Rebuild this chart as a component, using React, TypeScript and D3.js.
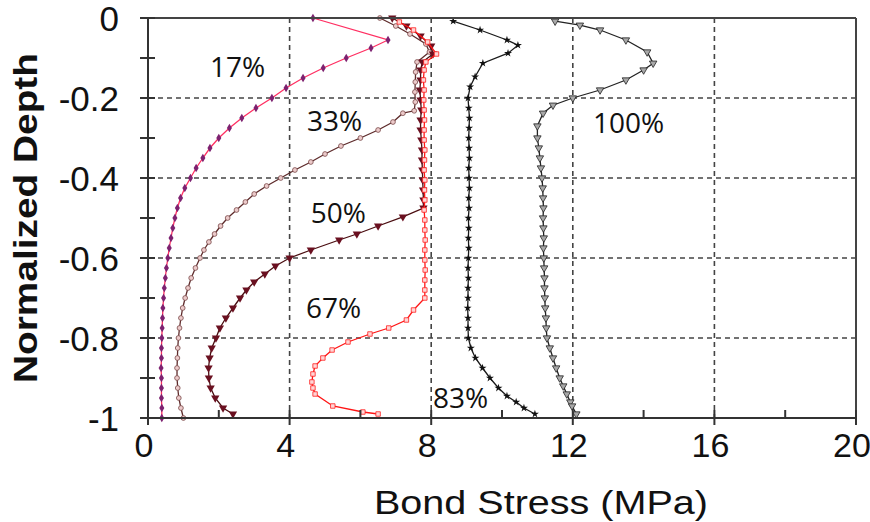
import React from "react";
import * as d3 from "d3";

const xTicks = [0, 4, 8, 12, 16, 20];
const xMinor = [2, 6, 10, 14, 18];
const yTicks = [0, -0.2, -0.4, -0.6, -0.8, -1];
const yMinor = [-0.1, -0.3, -0.5, -0.7, -0.9];
const yTickLabels = ["0", "-0.2", "-0.4", "-0.6", "-0.8", "-1"];

// [bond stress (MPa), normalized depth]
const s17 = [
  [4.66, 0], [6.78, -0.055], [6.3, -0.075], [5.6, -0.1], [4.95, -0.125], [4.38, -0.15],
  [3.9, -0.175], [3.5, -0.2], [3.05, -0.225], [2.65, -0.25], [2.3, -0.275], [2.0, -0.3],
  [1.75, -0.325], [1.55, -0.35], [1.36, -0.375], [1.2, -0.4], [1.04, -0.425], [0.92, -0.45],
  [0.83, -0.475], [0.76, -0.5], [0.7, -0.525], [0.65, -0.55], [0.6, -0.575], [0.56, -0.6],
  [0.52, -0.625], [0.49, -0.65], [0.46, -0.675], [0.44, -0.7], [0.42, -0.725], [0.41, -0.75],
  [0.4, -0.775], [0.39, -0.8], [0.38, -0.825], [0.38, -0.85], [0.37, -0.875], [0.38, -0.9],
  [0.38, -0.925], [0.38, -0.95], [0.39, -0.975], [0.39, -1],
];
const s33 = [
  [6.55, 0], [7.0, -0.02], [7.4, -0.04], [7.85, -0.065], [7.95, -0.085], [7.6, -0.11],
  [7.56, -0.135], [7.55, -0.16], [7.54, -0.185], [7.55, -0.21], [7.52, -0.232], [7.2, -0.238],
  [6.92, -0.26], [6.5, -0.28], [6.0, -0.3], [5.45, -0.32], [5.0, -0.34], [4.6, -0.36],
  [4.15, -0.38], [3.75, -0.4], [3.35, -0.42], [3.0, -0.44], [2.75, -0.46], [2.5, -0.48],
  [2.25, -0.5], [2.05, -0.52], [1.88, -0.54], [1.72, -0.56], [1.58, -0.58], [1.47, -0.6],
  [1.34, -0.625], [1.22, -0.65], [1.13, -0.675], [1.05, -0.7], [0.98, -0.725], [0.93, -0.75],
  [0.89, -0.775], [0.86, -0.8], [0.84, -0.825], [0.83, -0.85], [0.82, -0.875], [0.82, -0.9],
  [0.84, -0.925], [0.87, -0.95], [0.93, -0.975], [1.0, -1],
];
const s50 = [
  [6.9, 0], [7.3, -0.02], [7.7, -0.045], [8.0, -0.07], [8.05, -0.09], [7.75, -0.11],
  [7.7, -0.13], [7.7, -0.155], [7.68, -0.18], [7.7, -0.205], [7.72, -0.23], [7.7, -0.255],
  [7.7, -0.28], [7.72, -0.305], [7.74, -0.33], [7.74, -0.355], [7.75, -0.38], [7.76, -0.405],
  [7.77, -0.43], [7.78, -0.455], [7.78, -0.475], [7.2, -0.497], [6.5, -0.52], [5.9, -0.54],
  [5.4, -0.555], [4.6, -0.58], [4.0, -0.6], [3.6, -0.62], [3.3, -0.64], [3.0, -0.66],
  [2.78, -0.68], [2.6, -0.7], [2.4, -0.725], [2.2, -0.75], [2.03, -0.775], [1.92, -0.8],
  [1.8, -0.825], [1.74, -0.85], [1.71, -0.875], [1.72, -0.9], [1.77, -0.925], [1.9, -0.95],
  [2.12, -0.975], [2.4, -0.99],
];
const s67 = [
  [7.1, -0.01], [7.5, -0.03], [7.9, -0.06], [8.15, -0.09], [7.85, -0.11], [7.8, -0.13],
  [7.78, -0.155], [7.8, -0.18], [7.79, -0.205], [7.8, -0.23], [7.81, -0.255], [7.8, -0.28],
  [7.8, -0.305], [7.82, -0.33], [7.81, -0.355], [7.8, -0.38], [7.82, -0.405], [7.81, -0.43],
  [7.82, -0.455], [7.8, -0.48], [7.82, -0.505], [7.82, -0.53], [7.83, -0.555], [7.82, -0.58],
  [7.82, -0.605], [7.83, -0.63], [7.82, -0.655], [7.82, -0.68], [7.82, -0.7], [7.5, -0.73],
  [7.3, -0.755], [6.8, -0.775], [6.27, -0.79], [5.65, -0.81], [5.2, -0.83], [4.94, -0.85],
  [4.72, -0.87], [4.66, -0.89], [4.63, -0.91], [4.66, -0.925], [4.72, -0.94], [5.22, -0.97],
  [6.07, -0.985], [6.5, -0.99],
];
const s83 = [
  [8.62, -0.008], [9.38, -0.03], [10.14, -0.055], [10.45, -0.068], [10.17, -0.088], [9.46, -0.113],
  [9.24, -0.147], [9.1, -0.172], [9.04, -0.2], [9.06, -0.225], [9.08, -0.25], [9.07, -0.275],
  [9.06, -0.3], [9.07, -0.325], [9.08, -0.35], [9.06, -0.375], [9.07, -0.4], [9.08, -0.425],
  [9.06, -0.45], [9.07, -0.475], [9.05, -0.5], [9.06, -0.525], [9.05, -0.55], [9.06, -0.575],
  [9.05, -0.6], [9.04, -0.625], [9.05, -0.65], [9.04, -0.675], [9.04, -0.7], [9.03, -0.725],
  [9.04, -0.75], [9.04, -0.775], [9.05, -0.8], [9.12, -0.825], [9.25, -0.85], [9.45, -0.875],
  [9.66, -0.9], [9.9, -0.925], [10.14, -0.945], [10.4, -0.96], [10.62, -0.975], [10.93, -0.99],
];
const s100 = [
  [11.5, -0.008], [12.2, -0.018], [12.77, -0.03], [13.5, -0.055], [14.1, -0.085], [14.27, -0.113],
  [14.0, -0.13], [13.5, -0.155], [12.77, -0.18], [12.0, -0.2], [11.44, -0.218], [11.16, -0.238],
  [11.0, -0.27], [11.0, -0.3], [11.04, -0.325], [11.07, -0.35], [11.1, -0.375], [11.13, -0.4],
  [11.15, -0.425], [11.16, -0.45], [11.17, -0.475], [11.16, -0.5], [11.17, -0.525], [11.18, -0.55],
  [11.17, -0.575], [11.18, -0.6], [11.19, -0.625], [11.2, -0.65], [11.2, -0.675], [11.21, -0.7],
  [11.22, -0.725], [11.24, -0.75], [11.25, -0.775], [11.27, -0.8], [11.35, -0.825], [11.44, -0.85],
  [11.53, -0.875], [11.63, -0.9], [11.73, -0.92], [11.83, -0.94], [11.93, -0.96], [11.98, -0.97],
  [12.1, -0.99],
];

const seriesNames = ["17%", "33%", "50%", "67%", "83%", "100%"];
// where each curve's name is written, in data units [stress, depth]
const labelSpots = [
  [1.75, -0.148], [4.49, -0.283], [4.6, -0.513], [4.46, -0.75], [8.05, -0.975], [12.57, -0.288],
];

const W = 870, H = 522;
const left = 148, right = 856, top = 18, bottom = 418;

const looks = [
  { line: "#ff2f62", sym: d3.symbolDiamond, size: 22, fill: "#7d2170", stroke: "none", rot: 0 },
  { line: "#5e2b2b", sym: d3.symbolCircle, size: 18, fill: "#eccaca", stroke: "#7a4a4a", rot: 0 },
  { line: "#4a0d10", sym: d3.symbolTriangle, size: 30, fill: "#6a1020", stroke: "none", rot: 180 },
  { line: "#ff1515", sym: d3.symbolSquare, size: 20, fill: "#ffd6d6", stroke: "#ff2020", rot: 0 },
  { line: "#1a1a1a", sym: d3.symbolStar, size: 20, fill: "#111", stroke: "none", rot: 0 },
  { line: "#222", sym: d3.symbolTriangle, size: 24, fill: "#a8a8a8", stroke: "#222", rot: 180 },
];

export default function App() {
  const x = d3.scaleLinear().domain([0, 20]).range([left, right]);
  const y = d3.scaleLinear().domain([0, -1]).range([top, bottom]);
  const line = d3.line<number[]>().x(d => x(d[0])).y(d => y(d[1]));
  const all = [s17, s33, s50, s67, s83, s100];
  const font = "'Liberation Sans', Arial, sans-serif";

  return (
    <svg width={W} height={H} style={{ position: "absolute", left: 0, top: 0, background: "#fff" }}>
      <rect x={0} y={0} width={W} height={H} fill="#fff" />
      {/* grid */}
      {xTicks.slice(1, -1).map(t => (
        <line key={"gx" + t} x1={x(t)} x2={x(t)} y1={top} y2={bottom}
          stroke="#444" strokeWidth={1.6} strokeDasharray="5,4" />
      ))}
      {yTicks.slice(1, -1).map(t => (
        <line key={"gy" + t} x1={left - 8} x2={right} y1={y(t)} y2={y(t)}
          stroke="#444" strokeWidth={1.6} strokeDasharray="5,4" />
      ))}

      {/* curves */}
      {all.map((s, i) => {
        const lk = looks[i];
        const sym = d3.symbol().type(lk.sym).size(lk.size)();
        return (
          <g key={"s" + i}>
            <path d={line(s) || ""} fill="none" stroke={lk.line} strokeWidth={1.3} />
            {s.map((d, j) => (
              <path key={j} d={sym || ""}
                transform={`translate(${x(d[0])},${y(d[1])}) rotate(${lk.rot})`}
                fill={lk.fill} stroke={lk.stroke} strokeWidth={0.8} />
            ))}
          </g>
        );
      })}

      {/* frame and axes */}
      <line x1={left} x2={right} y1={top} y2={top} stroke="#444" strokeWidth={2} />
      <line x1={right} x2={right} y1={top} y2={bottom} stroke="#444" strokeWidth={2} />
      <line x1={left} x2={left} y1={top} y2={bottom} stroke="#333" strokeWidth={2} />
      <line x1={left} x2={right} y1={bottom} y2={bottom} stroke="#333" strokeWidth={2} />
      {yTicks.concat(yMinor).map(t => (
        <line key={"ty" + t} x1={left - 8} x2={left + 7} y1={y(t)} y2={y(t)} stroke="#333" strokeWidth={2} />
      ))}
      {xTicks.map(t => (
        <line key={"tx" + t} x1={x(t)} x2={x(t)} y1={bottom - 8} y2={bottom + 7} stroke="#333" strokeWidth={2} />
      ))}
      {xMinor.map(t => (
        <line key={"tm" + t} x1={x(t)} x2={x(t)} y1={bottom - 8} y2={bottom} stroke="#333" strokeWidth={2} />
      ))}

      {/* tick labels */}
      {yTicks.map((t, i) => (
        <text key={"ly" + t} x={119} y={y(t) + 13} textAnchor="end" fontFamily={font} fontSize={35} fill="#111">
          {yTickLabels[i]}
        </text>
      ))}
      {xTicks.map(t => (
        <text key={"lx" + t} x={x(t) - 4} y={457} textAnchor="middle" fontFamily={font} fontSize={34} fill="#111">
          {t}
        </text>
      ))}

      {/* axis titles */}
      <text x={541} y={514} textAnchor="middle" fontFamily={font} fontSize={34} fill="#111"
        textLength={334} lengthAdjust="spacingAndGlyphs">Bond Stress (MPa)</text>
      <text transform="translate(37,218) rotate(-90)" textAnchor="middle" fontFamily={font}
        fontSize={34} fontWeight="bold" fill="#111" textLength={330} lengthAdjust="spacingAndGlyphs">
        Normalized Depth
      </text>

      {/* curve names */}
      {seriesNames.map((n, i) => (
        <text key={"n" + n} x={x(labelSpots[i][0])} y={y(labelSpots[i][1])}
          fontFamily="'Open Sans', sans-serif" fontSize={28} fill="#111">{n}</text>
      ))}
    </svg>
  );
}
